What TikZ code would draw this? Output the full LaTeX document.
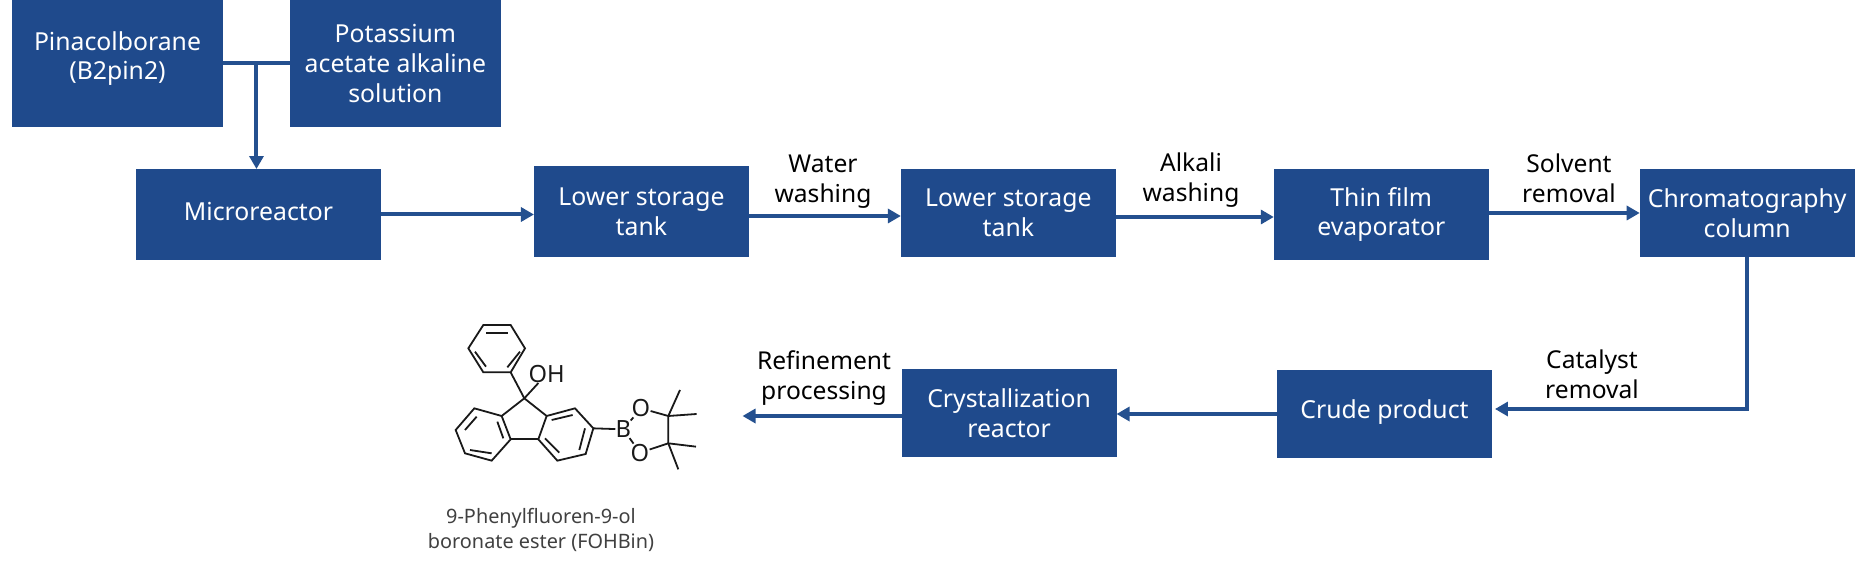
\documentclass[tikz,border=0pt]{standalone}
\usepackage{fontspec}
\setmainfont{Noto Sans}
\usetikzlibrary{positioning, calc, arrows.meta}
\definecolor{boxblue}{HTML}{1F4A8C}
\definecolor{lineblue}{HTML}{24508F}

\begin{document}
\begin{tikzpicture}[
        x=0.02cm, y=-0.02cm,
        box/.style={rectangle, fill=boxblue, text=white, inner sep=0pt, outer sep=0pt, minimum width=4.3cm, minimum height=1.76cm, align=center, font=\fontsize{14.1}{17}\selectfont},
        steptext/.style={align=center, inner sep=0pt, font=\fontsize{14}{17}\selectfont},
        link/.style={lineblue, line width=0.08cm},
        arrow/.style={link, -{Triangle[length=0.26cm, width=0.28cm]}},
        bond/.style={black!90, line width=0.036cm},
        atom/.style={inner sep=0pt, text=black!90, font=\fontsize{13.5}{15}\selectfont}
        ]
        \useasboundingbox (0,0) rectangle (1863,564);

        \node[box, minimum width=4.22cm, minimum height=2.54cm, text depth=9pt] (pina) at (117.5,63.5) {Pinacolborane\\(B2pin2)};
        \node[box, minimum width=4.22cm, minimum height=2.54cm, right=1.34cm of pina] (pota) {Potassium\\acetate alkaline\\solution};
        \node[box, minimum width=4.9cm, minimum height=1.82cm, text depth=3pt] (micro) at (258.5,214.5) {Microreactor};
        \node[box, minimum height=1.82cm, right=3.06cm of micro, yshift=0.06cm] (store1) {Lower storage\\tank};
        \node[box, right=3.04cm of store1, yshift=-0.03cm] (store2) {Lower storage\\tank};
        \node[box, minimum height=1.82cm, right=3.16cm of store2, yshift=-0.03cm] (thin) {Thin film\\evaporator};
        \node[box, right=3.02cm of thin, yshift=0.03cm] (chrom) {Chromatography\\column};
        \node[box, text depth=6pt] (crude) at (1384.5,414) {Crude product};
        \node[box, left=3.21cm of crude, yshift=0.02cm] (cryst) {Crystallization\\reactor};

        \node[steptext] (water) at (823,182) {Water\\washing};
        \node[steptext] (alkali) at (1191,180) {Alkali\\washing};
        \node[steptext] (solvent) at (1569,178) {Solvent\\removal};
        \node[steptext] (catalyst) at (1592,374) {Catalyst\\removal};
        \node[steptext] (refine) at (824,378) {Refinement\\processing};
        \node[steptext, text=black!75, font=\fontsize{11.3}{14.2}\selectfont] (fohbin) at (541,530) {9-Phenylfluoren-9-ol\\boronate ester (FOHBin)};

        \coordinate (merge) at ($(pina.east)!0.5!(pota.west)$);
        \coordinate (product) at (742.5,416);

        \draw[link] (pina) -- (pota);
        \draw[arrow] (merge) -- (merge |- micro.north);
        \draw[arrow] (micro.east) -- (micro.east -| store1.west);
        \draw[arrow] ([yshift=-0.09cm]store1.east) -- ([yshift=-0.09cm]store1.east -| store2.west);
        \draw[arrow] ([yshift=-0.08cm]store2.east) -- ([yshift=-0.08cm]store2.east -| thin.west);
        \draw[arrow] ([yshift=0.03cm]thin.east) -- ([yshift=0.03cm]thin.east -| chrom.west);
        \draw[arrow] (chrom.south) |- ([xshift=0.06cm, yshift=0.1cm]crude.east);
        \draw[arrow] (crude.west) -- (crude.west -| cryst.east);
        \draw[arrow] (cryst.west |- product) -- (product);

        \begin{scope}[shift={(420,310)}, x=0.00667cm, y=-0.00667cm]
            \draw[bond] (190,45) -- (272,45) -- (315,115) -- (272,187) -- (190,187) -- (145,115) -- cycle;
            \draw[bond] (163,295) -- (245,318) -- (272,388) -- (215,452) -- (135,430) -- (107,360) -- cycle;
            \draw[bond] (380,318) -- (465,295) -- (520,355) -- (497,432) -- (412,452) -- (355,388) -- cycle;
            \draw[bond] (272,187) -- (313,265) -- (245,318);
            \draw[bond] (313,265) -- (380,318);
            \draw[bond] (272,388) -- (355,388);
            \foreach \a/\b/\c/\d in {198/68/265/68, 165/125/198/170, 300/125/262/172, 135/360/170/320, 232/335/250/385, 150/420/215/430, 395/330/458/315, 495/355/478/420, 418/428/375/385}
                \draw[bond] (\a,\b) -- (\c,\d);
            \node[atom] (oh) at (380,192) {OH};
            \node[atom] (boron) at (610,358) {B};
            \node[atom] (otop) at (663,295) {O};
            \node[atom] (obot) at (660,428) {O};
            \draw[bond] (313,265) -- (oh);
            \draw[bond] (520,355) -- (boron);
            \draw[bond] (boron) -- (otop);
            \draw[bond] (boron) -- (obot);
            \draw[bond] (otop) -- (745,318) -- (745,400) -- (obot);
            \foreach \c/\d in {780/240, 830/312}
                \draw[bond] (745,318) -- (\c,\d);
            \foreach \c/\d in {828/410, 775/478}
                \draw[bond] (745,400) -- (\c,\d);
        \end{scope}
    \end{tikzpicture}
\end{document}
